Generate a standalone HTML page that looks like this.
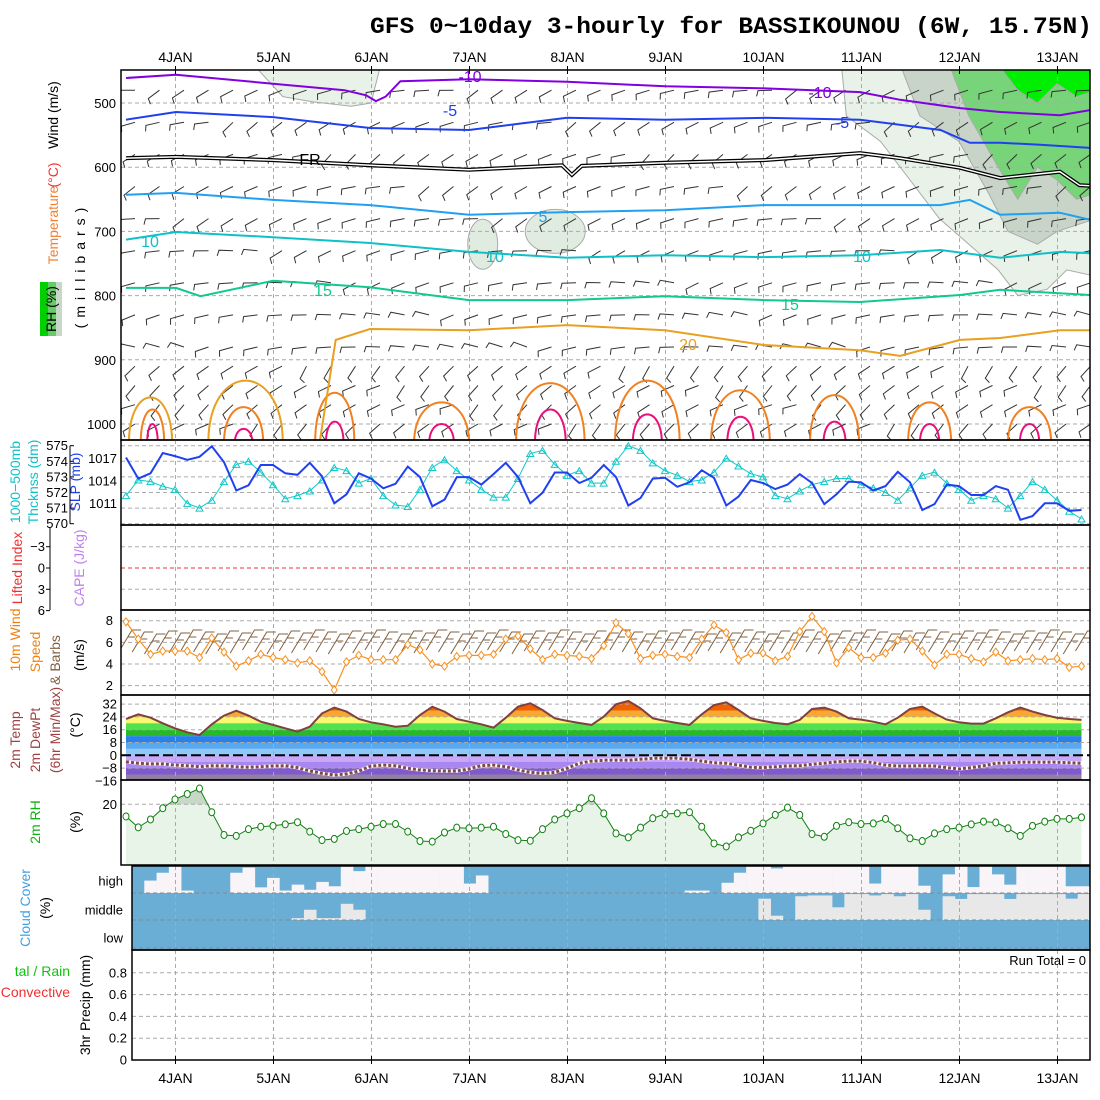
<!DOCTYPE html>
<html><head><meta charset="utf-8"><title>GFS meteogram</title>
<style>
html,body{margin:0;padding:0;background:#fff;}
svg{display:block;font-family:"Liberation Sans",sans-serif;}
</style></head>
<body>
<svg id="chart" xmlns="http://www.w3.org/2000/svg" width="1100" height="1100" viewBox="0 0 1100 1100">
<rect x="0" y="0" width="1100" height="1100" fill="#fff"/>
<text x="370" y="33" font-family="Liberation Mono,monospace" font-weight="bold" font-size="23" textLength="722" lengthAdjust="spacingAndGlyphs">GFS 0~10day 3-hourly for BASSIKOUNOU (6W, 15.75N)</text>
<g id="layers"></g>
<g font-size="14">
<text transform="translate(58,115) rotate(-90)" text-anchor="middle">Wind (m/s)</text>
<text transform="translate(58,175) rotate(-90)" text-anchor="middle" fill="#f03030">(°C)</text>
<text transform="translate(58,225) rotate(-90)" text-anchor="middle" fill="#f08030">Temperature</text>
<rect x="40" y="282" width="22" height="54" fill="#6c6"/>
<rect x="40" y="282" width="8" height="54" fill="#00d000"/>
<rect x="56" y="282" width="6" height="54" fill="#c8d8c8"/>
<text transform="translate(56,309) rotate(-90)" text-anchor="middle">RH (%)</text>
<text transform="translate(85,265) rotate(-90)" text-anchor="middle" letter-spacing="6">(millibars)</text>
<text transform="translate(20,482) rotate(-90)" text-anchor="middle" fill="#10c0c8">1000−500mb</text>
<text transform="translate(38,482) rotate(-90)" text-anchor="middle" fill="#10c0c8">Thcknss (dm)</text>
<text transform="translate(80,482) rotate(-90)" text-anchor="middle" fill="#2040f0">SLP (mb)</text>
<text transform="translate(22,568) rotate(-90)" text-anchor="middle" fill="#f03030">Lifted Index</text>
<text transform="translate(84,568) rotate(-90)" text-anchor="middle" fill="#c080f0">CAPE (J/kg)</text>
<text transform="translate(20,640) rotate(-90)" text-anchor="middle" fill="#f08010">10m Wind</text>
<text transform="translate(40,652) rotate(-90)" text-anchor="middle" fill="#f08010">Speed</text>
<text transform="translate(60,660) rotate(-90)" text-anchor="middle" fill="#806040">&amp; Barbs</text>
<text transform="translate(84,655) rotate(-90)" text-anchor="middle">(m/s)</text>
<text transform="translate(20,740) rotate(-90)" text-anchor="middle" fill="#a04040">2m Temp</text>
<text transform="translate(40,740) rotate(-90)" text-anchor="middle" fill="#a04040">2m DewPt</text>
<text transform="translate(60,730) rotate(-90)" text-anchor="middle" fill="#a04040">(6hr Min/Max)</text>
<text transform="translate(80,725) rotate(-90)" text-anchor="middle">(°C)</text>
<text transform="translate(40,822) rotate(-90)" text-anchor="middle" fill="#10b010">2m RH</text>
<text transform="translate(80,822) rotate(-90)" text-anchor="middle">(%)</text>
<text transform="translate(30,908) rotate(-90)" text-anchor="middle" fill="#40a0e0">Cloud Cover</text>
<text transform="translate(50,908) rotate(-90)" text-anchor="middle">(%)</text>
<text x="70" y="976" text-anchor="end" fill="#10c010">tal / Rain</text>
<text x="70" y="997" text-anchor="end" fill="#f03030">Convective</text>
<text transform="translate(90,1005) rotate(-90)" text-anchor="middle">3hr Precip (mm)</text>
<text x="1086" y="965" text-anchor="end" font-size="13">Run Total = 0</text>
</g>
</svg>
<script>
// ---------- data ----------
const days = ['4JAN','5JAN','6JAN','7JAN','8JAN','9JAN','10JAN','11JAN','12JAN','13JAN'];
const slp = [1017.1,1014.3,1015.0,1017.7,1017.3,1016.8,1017.2,1018.6,1016.5,1012.7,1013.4,1016.1,1016.1,1015.0,1014.8,1016.4,1014.6,1011.0,1012.2,1015.0,1014.3,1013.0,1013.6,1015.9,1014.5,1010.6,1011.5,1014.5,1014.5,1013.5,1014.9,1016.4,1014.5,1011.0,1012.4,1015.1,1015.1,1013.7,1014.4,1016.1,1014.5,1010.7,1011.7,1014.3,1014.4,1013.2,1013.8,1015.4,1014.4,1010.7,1011.9,1014.1,1013.7,1012.9,1013.5,1014.9,1013.7,1010.9,1012.2,1013.9,1013.8,1012.7,1013.3,1015.2,1013.8,1010.1,1010.9,1013.5,1013.3,1012.1,1012.1,1013.3,1012.8,1008.8,1009.3,1011.0,1011.0,1010.0,1010.1];
const thick = [571.8,572.8,572.7,572.4,572.2,571.3,571.0,571.5,572.7,573.8,574.0,573.3,572.5,571.6,571.8,572.1,572.8,573.6,573.4,572.6,572.9,571.8,571.2,571.1,572.2,573.6,574.1,573.4,572.8,572.2,571.7,571.7,572.9,574.5,574.7,573.8,573.1,573.4,572.6,572.6,574.0,575.0,574.7,573.9,573.4,573.1,572.7,572.8,573.3,574.2,573.7,573.2,573.0,571.8,571.6,572.1,572.5,572.7,572.9,572.9,572.5,572.3,572.0,571.5,572.3,573.1,573.3,572.6,572.2,571.5,571.8,571.6,571.0,571.8,572.7,572.2,571.5,570.8,570.3];
const wind10 = [7.9,6.3,4.9,5.2,5.2,5.2,4.6,6.4,5.1,3.8,4.3,4.9,4.6,4.4,4.1,4.3,3.3,1.6,4.2,4.8,4.4,4.4,4.4,5.8,5.3,4.0,3.8,4.7,4.8,4.8,4.9,6.3,6.6,5.4,4.4,4.9,4.8,4.7,4.5,5.7,7.8,6.8,4.5,4.8,4.9,4.7,4.6,6.3,7.6,6.9,4.4,5.0,5.0,4.3,4.7,7.0,8.4,7.0,4.1,5.5,4.6,4.6,5.0,6.2,6.3,5.2,3.9,4.9,4.9,4.5,4.2,5.1,4.3,4.4,4.5,4.4,4.5,3.7,3.8];
const temp2m = [22.7,25.6,23.5,20.0,16.9,14.4,12.7,19.4,24.8,27.9,24.8,21.0,19.0,16.9,14.8,17.9,26.2,29.8,27.3,22.7,20.6,19.4,17.9,18.5,25.2,30.4,27.3,22.7,21.0,19.4,17.3,23.5,30.4,32.5,28.3,23.1,21.5,20.2,19.0,24.2,31.9,34.0,29.4,23.1,21.5,20.2,19.0,25.6,31.4,33.1,28.3,23.1,21.5,20.2,19.4,22.1,29.0,29.8,27.3,23.1,22.3,21.0,19.4,23.5,29.0,30.4,26.2,22.3,20.6,19.8,19.8,23.1,26.9,29.8,27.3,25.2,23.5,22.7,22.1];
const dewpt = [-4.0,-5.0,-5.4,-5.4,-6.1,-6.5,-7.1,-6.5,-6.5,-7.1,-7.5,-7.1,-6.7,-6.5,-7.7,-9.8,-11.3,-12.3,-11.7,-9.8,-6.7,-6.1,-6.5,-8.1,-9.2,-9.6,-9.8,-9.8,-8.5,-6.5,-6.1,-7.1,-9.2,-10.6,-11.3,-10.6,-8.1,-5.0,-3.6,-3.1,-3.1,-3.1,-2.5,-1.9,-1.9,-1.9,-2.5,-3.6,-4.6,-5.0,-6.1,-7.5,-7.7,-7.1,-6.7,-6.5,-5.6,-5.0,-4.0,-3.6,-3.6,-4.6,-6.1,-6.7,-6.7,-6.5,-6.7,-7.7,-8.5,-7.7,-6.5,-5.0,-4.6,-4.4,-4.4,-4.4,-4.4,-4.6,-5.0];
const rh2m = [16.0,12.4,15.0,18.7,21.6,23.4,25.2,17.4,9.9,9.6,11.8,12.6,12.9,13.4,14.1,11.0,8.2,8.6,11.2,11.8,12.6,13.5,13.5,11.0,7.9,7.7,10.7,12.3,12.1,12.3,12.6,10.2,8.2,8.0,11.8,15.0,17.0,18.7,22.0,17.0,10.4,9.1,12.3,15.4,16.8,17.0,17.4,12.6,7.1,6.1,9.1,11.3,13.7,16.5,18.9,16.5,10.2,9.3,12.9,14.1,13.5,13.7,15.2,12.1,8.8,7.9,10.4,11.8,12.3,13.4,14.3,14.0,12.1,9.6,12.9,14.3,15.2,15.2,15.7];
const cloudHigh = [0,.46,.75,1,.09,0,0,0,.75,.94,.21,.56,.09,.31,.12,.41,.25,1,.81,1,1,1,1,1,1,1,1,.35,.65,0,0,0,0,0,0,0,0,0,0,0,0,0,0,0,0,.09,.09,0,.38,.75,.98,1,.91,1,1,1,1,1,1,1,.35,1,1,1,.27,0,.69,1,.22,1,.69,.31,1,1,1,1,.25,.25];
const cloudMid = [0,0,0,0,0,0,0,0,0,0,0,0,0,.07,.38,.07,.07,.6,.38,0,0,0,0,0,0,0,0,0,0,0,0,0,0,0,0,0,0,0,0,0,0,0,0,0,0,0,0,0,0,0,0,.79,.16,0,.88,.91,.91,.47,.96,.96,.91,.96,.88,.96,.38,0,.88,.78,.96,.96,.96,.78,.96,.96,.96,.96,.79,.96];
const precip = [];
// isotherms: time (days since first step) and pressure (mb)
const isoM10T = [0,.51,1.5,2.23,2.45,2.55,2.65,2.8,3.5,4.5,5.5,6.47,7.49,7.9,8.51,8.92,9.53,9.84];
const isoM10P = [461,456,470,480,488,497,490,466,463,467,474,477,483,495,508,514,519,511];
const isoM5T = [0,.51,1.5,2.49,3.5,4.5,5.5,6.51,7.49,8.31,8.61,8.92,9.33,9.84];
const isoM5P = [526,514,522,539,542,523,526,523,526,542,562,562,565,570];
const isoFRT = [0,.51,1.5,2.49,3.5,4.45,4.55,4.65,5.5,6.51,7.49,7.9,8.51,8.92,9.53,9.73,9.84];
const isoFRP = [586,584,589,597,604,597,612,598,593,589,578,586,601,617,607,628,629];
const iso5T = [0,.51,1.5,2.49,3.5,4.5,5.5,6.51,7.49,8.31,8.61,8.92,9.53,9.84];
const iso5P = [643,640,651,659,674,670,667,659,659,659,651,674,671,682];
const iso10T = [0,.51,1.5,2.49,3.5,4.5,5.5,6.51,7.49,8.31,8.92,9.53,9.84];
const iso10P = [713,701,709,718,732,741,737,740,737,729,741,732,734];
const iso15T = [0,.51,.76,1.5,2.49,3.5,4.5,5.5,6.51,7.49,8.51,8.92,9.84];
const iso15P = [788,788,801,777,787,807,807,801,807,810,799,791,799];
const iso20T = [1.98,2.14,2.49,3.5,4.5,5.5,6.51,7.49,7.9,8.51,8.92,9.53,9.84];
const iso20P = [1025,869,852,854,846,854,877,885,894,869,866,854,854];
const arcT = [0.27,1.2,2.13,3.22,4.33,5.32,6.27,7.23,8.2,9.22];
const arc25Top = [960,955,925,945,905,900,920,930,945,955];
const arcHalf = [0.12,0.2,0.2,0.28,0.35,0.33,0.3,0.25,0.22,0.22];
const arc30Top = [990,1000,985,990,960,970,975,985,990,990];
const arc20T = [0.25,1.22];
const arc20Top = [935,900];
const arc20Half = [0.22,0.38];
// ---------- scales ----------
const NS='http://www.w3.org/2000/svg';
const L=121, R=1090;
const layers=document.getElementById('layers');
function mk(tag,attrs,parent){const e=document.createElementNS(NS,tag);for(const k in attrs)e.setAttribute(k,attrs[k]);(parent||layers).appendChild(e);return e;}
function xi(i){return 126+12.25*i;}
function xt(t){return 126+98*t;}
function xDay(d){return 175.5+98*d;}
function yP(p){return 103+(p-500)*0.642;}
function yTh(v){return 445.7+(575-v)*15.6;}
function ySlp(v){return 458.3+(1017-v)*7.5;}
function yLI(v){return 568+v*7.1;}
function yW(v){return 620.7+(8-v)*10.83;}
function yT(v){return 755.3-v*1.6;}
function yRH(v){return 865-v*3.035;}
function yPr(v){return 1060-v*109;}
function pts(arr,yf){return arr.map((v,i)=>xi(i).toFixed(1)+','+yf(v).toFixed(1)).join(' ');}
function tp(T,P){return T.map((t,i)=>xt(t).toFixed(1)+','+yP(P[i]).toFixed(1)).join(' ');}

const defs=mk('defs',{});
const cp=mk('clipPath',{id:'c1'},defs); mk('rect',{x:L,y:70,width:R-L,height:370},cp);
const cp4=mk('clipPath',{id:'c4'},defs); mk('rect',{x:L,y:610,width:R-L,height:85},cp4);
const cp5=mk('clipPath',{id:'c5'},defs);
mk('polygon',{points:xi(0)+',780 '+pts(temp2m,yT)+' '+xi(temp2m.length-1)+',780'},cp5);

// ---------- panel 1: cross-section ----------
const g1=mk('g',{'clip-path':'url(#c1)'});


function poly(parent,T,P,fill){return mk('polygon',{points:tp(T,P),fill:fill,stroke:'#aaa','stroke-width':1},parent);}
let rh=poly(g1,[7.3,7.35,7.7,8.0,8.3,8.6,8.9,9.1,9.4,9.6,9.9,9.9],[440,520,560,620,680,720,760,800,790,760,770,440],'#e8f2e8');


poly(g1,[1.3,1.6,1.9,2.3,2.5,2.6],[440,490,498,505,500,440],'#e8f2e8');
mk('ellipse',{cx:xt(3.64),cy:yP(720),rx:15,ry:25,fill:'#e0ece0',stroke:'#aaa'},g1);
mk('ellipse',{cx:xt(4.38),cy:yP(700),rx:30,ry:22,fill:'#e0ece0',stroke:'#aaa'},g1);
poly(g1,[7.9,8.1,8.5,8.8,9.0,9.3,9.5,9.9,9.9],[440,520,560,640,700,720,700,680,440],'#c8d4c8');
poly(g1,[8.4,8.6,8.9,9.1,9.3,9.5,9.7,9.9,9.9],[440,520,600,650,600,620,650,640,440],'#78d478');
poly(g1,[8.9,9.1,9.3,9.5,9.7,9.9,9.9],[440,480,500,470,490,480,440],'#00ee00');
for(let p=500;p<=1000;p+=100){mk('line',{x1:L,x2:R,y1:yP(p),y2:yP(p),stroke:'#aaa','stroke-dasharray':'4,3'},g1);}
for(let d=0;d<days.length;d++){mk('line',{x1:xDay(d),x2:xDay(d),y1:70,y2:440,stroke:'#aaa','stroke-dasharray':'4,3'},g1);}
// barbs
const barbRowP=[480,530,580,630,680,730,780,830,880,910,940,970,1000];
const barbRowAng=[200,205,210,205,200,195,190,185,180,225,220,215,220];
for(let r=0;r<barbRowP.length;r++){
  for(let c=0;c<40;c++){
    const x=135+c*24.5, y=yP(barbRowP[r]);
    const a=(barbRowAng[r]+((c*37+r*11)%40)-20)*Math.PI/180;
    const len=14, x2=x+len*Math.cos(a), y2=y-len*Math.sin(a);
    const b=mk('path',{d:`M${x.toFixed(1)},${y.toFixed(1)}L${x2.toFixed(1)},${y2.toFixed(1)}l${(6*Math.cos(a+1.3)).toFixed(1)},${(-6*Math.sin(a+1.3)).toFixed(1)}`,stroke:'#333',fill:'none','stroke-width':1},g1);
    
    
  }
}
function arcPath(tc,half,top){const x1=xt(tc-half),x2=xt(tc+half),yb=yP(1030),yt=yP(top);return `M${x1},${yb}C${x1},${yt} ${x2},${yt} ${x2},${yb}`;}
for(let k=0;k<arc20T.length;k++){const a=mk('path',{d:arcPath(arc20T[k],arc20Half[k],arc20Top[k]),stroke:'#e8a020',fill:'none','stroke-width':2},g1);}
for(let k=0;k<arcT.length;k++){
  const a=mk('path',{d:arcPath(arcT[k],arcHalf[k],arc25Top[k]),stroke:'#f08020',fill:'none','stroke-width':2},g1);
  
  
  const m=mk('path',{d:arcPath(arcT[k],arcHalf[k]*0.45,arc30Top[k]),stroke:'#e8107a',fill:'none','stroke-width':2},g1);
  
  
}
function iso(T,P,color,name,w){const e=mk('polyline',{points:tp(T,P),stroke:color,fill:'none','stroke-width':w||2},g1);return e;}
iso(isoM10T,isoM10P,'#8000e0','isotherm-minus10');
iso(isoM5T,isoM5P,'#2040f0','isotherm-minus5');
iso(isoFRT,isoFRP,'#000','freezing-level',4);
iso(isoFRT,isoFRP,'#fff','freezing-level-inner',1.5);
iso(iso5T,iso5P,'#20a0f0','isotherm-5');
iso(iso10T,iso10P,'#10c0c8','isotherm-10');
iso(iso15T,iso15P,'#10c890','isotherm-15');
iso(iso20T,iso20P,'#e8a020','isotherm-20');
function lab(x,y,t,c,name){const e=mk('text',{x:x,y:y,fill:c,'font-size':16,'text-anchor':'middle'},g1);e.textContent=t;}
lab(470,82,'-10','#8000e0','label-minus10');lab(820,98,'-10','#8000e0','label-minus10b');
lab(450,116,'-5','#2040f0','label-minus5');lab(842,128,'-5','#2040f0','label-minus5b');
lab(310,165,'FR','#000','label-fr');
lab(543,222,'5','#20a0f0','label-5');
lab(150,247,'10','#10c0c8','label-10');lab(495,262,'10','#10c0c8','label-10b');lab(862,262,'10','#10c0c8','label-10c');
lab(323,296,'15','#10c890','label-15');lab(790,310,'15','#10c890','label-15b');
lab(688,350,'20','#e8a020','label-20');
mk('rect',{x:L,y:70,width:R-L,height:370,fill:'none',stroke:'#000','stroke-width':1.5});
for(let p=500;p<=1000;p+=100){const t=mk('text',{x:116,y:yP(p)+5,'font-size':13,'text-anchor':'end'});t.textContent=p;}

function frame(x1,y1,x2,y2,name){const e=mk('rect',{x:x1,y:y1,width:x2-x1,height:y2-y1,fill:'none',stroke:'#000','stroke-width':1.5});}
function hgrid(x1,y,x2,c){mk('line',{x1:x1,x2:x2,y1:y,y2:y,stroke:c||'#aaa','stroke-dasharray':'4,3'});}
function vgrid(y1,y2){for(let d=0;d<days.length;d++)mk('line',{x1:xDay(d),x2:xDay(d),y1:y1,y2:y2,stroke:'#aaa','stroke-dasharray':'4,3'});}
function tick(x,y,txt,anchor,color,name){const t=mk('text',{x:x,y:y+4.5,'font-size':13,'text-anchor':anchor||'end',fill:color||'#000'});t.textContent=txt;}

// ---------- panel 2 ----------
for(let v=570;v<=575;v++){hgrid(L,yTh(v),R);tick(68,yTh(v),v,'end','#000','thickness-tick');mk('line',{x1:70,x2:74,y1:yTh(v),y2:yTh(v),stroke:'#000'});}
vgrid(440,525);
mk('line',{x1:70,x2:70,y1:yTh(575),y2:yTh(570),stroke:'#000'});
[1017,1014,1011].forEach(v=>tick(117,ySlp(v),v,'end','#000','slp-tick'));
const th=mk('polyline',{points:pts(thick,yTh),stroke:'#10c8c8',fill:'none','stroke-width':1});


thick.forEach((v,i)=>{const m=mk('path',{d:`M${xi(i)-3.5},${yTh(v)+3}l3.5,-6l3.5,6z`,stroke:'#10c8c8',fill:'none'});});
const sl=mk('polyline',{points:pts(slp,ySlp),stroke:'#2040f0',fill:'none','stroke-width':2});


frame(L,440,R,525,'slp-panel');

// ---------- panel 3 ----------
[-3,3].forEach(v=>hgrid(L,yLI(v),R));
hgrid(L,yLI(0),R,'#f03030');
vgrid(525,610);
mk('line',{x1:50,x2:50,y1:527,y2:610,stroke:'#000'});
[-3,0,3,6].forEach(v=>{tick(45,yLI(v),v<0?'−'+(-v):v,'end','#000','li-tick');mk('line',{x1:46,x2:50,y1:yLI(v),y2:yLI(v),stroke:'#000'});});
frame(L,525,R,610,'cape-panel');

// ---------- panel 4 ----------
[8,6,4,2].forEach(v=>{hgrid(L,yW(v),R);tick(113,yW(v),v,'end','#000','wind-tick');});
vgrid(610,695);
const g4=mk('g',{'clip-path':'url(#c4)'});


for(let i=0;i<wind10.length;i+=1){
  const x=xi(i), y=642+((i*7)%5)-2;
  const b=mk('path',{d:`M${x-6},${y+10}L${x+6},${y-10}l9,0M${x+2},${y-3}l7,0`,stroke:'#806040',fill:'none','stroke-width':1},g4);
  
  
}
const wl=mk('polyline',{points:pts(wind10,yW),stroke:'#f89020',fill:'none','stroke-width':1.2});


wind10.forEach((v,i)=>{const m=mk('path',{d:`M${xi(i)},${yW(v)-4}l3,4l-3,4l-3,-4z`,stroke:'#f89020',fill:'#fff'});});
frame(L,610,R,695,'wind-panel');

// ---------- panel 5 ----------
const bandLo=[28,24,20,16,12,8,4,0,-4,-8,-12,-16];
const bandColor=['#f06000','#f8a830','#f8f870','#50e050','#28b828','#2880e8','#58a8f0','#90c8f8','#c8a8f8','#a888f0','#8058d0','#9080a0'];
const g5=mk('g',{'clip-path':'url(#c5)'});


for(let k=0;k<bandLo.length;k++){const top=k===0?40:bandLo[k]+4;mk('rect',{x:L,y:yT(top),width:R-L,height:yT(bandLo[k])-yT(top),fill:bandColor[k]},g5);}
[32,24,16,8,-8].forEach(v=>hgrid(L,yT(v),R));
mk('line',{x1:L,x2:R,y1:yT(0),y2:yT(0),stroke:'#000','stroke-width':2,'stroke-dasharray':'10,4'});
vgrid(695,780);
[[32,'32'],[24,'24'],[16,'16'],[8,'8'],[0,'0'],[-8,'−8'],[-16,'−16']].forEach(a=>tick(117,yT(a[0]),a[1],'end','#000','temp-tick'));
const tl=mk('polyline',{points:pts(temp2m,yT),stroke:'#804040',fill:'none','stroke-width':2});


mk('polyline',{points:pts(dewpt,yT),stroke:'#fff',fill:'none','stroke-width':3.5});
const dl=mk('polyline',{points:pts(dewpt,yT),stroke:'#804848',fill:'none','stroke-width':3,'stroke-dasharray':'3,2'});


frame(L,695,R,780,'temp-panel');

// ---------- panel 6 ----------
const rhPts=xi(0)+',865 '+pts(rh2m,yRH)+' '+xi(rh2m.length-1)+',865';
const cp6=mk('clipPath',{id:'c6'},defs);mk('polygon',{points:rhPts},cp6);
const rf=mk('polygon',{points:rhPts,fill:'#e8f4e8'});


mk('rect',{x:L,y:780,width:R-L,height:yRH(20)-780,fill:'#c8d8c8','clip-path':'url(#c6)'});
hgrid(L,yRH(20),R);vgrid(780,865);
tick(117,yRH(20),'20','end','#000','rh-tick');
const rl=mk('polyline',{points:pts(rh2m,yRH),stroke:'#108010',fill:'none','stroke-width':1});


rh2m.forEach((v,i)=>{const m=mk('ellipse',{cx:xi(i),cy:yRH(v),rx:3,ry:3.5,stroke:'#108010',fill:'#fff'});});
frame(L,780,R,865,'rh-panel');

// ---------- panel 7 ----------
const CL=132, segW=(R-CL)/cloudHigh.length;
mk('rect',{x:CL,y:866,width:R-CL,height:84,fill:'#6aaed6'});
cloudHigh.forEach((v,k)=>{if(v>0){const b=mk('rect',{x:CL+k*segW,y:893-v*27,width:segW+0.3,height:v*27,fill:'#f8f4f8'});}});
cloudMid.forEach((v,k)=>{if(v>0){const b=mk('rect',{x:CL+k*segW,y:920-v*27,width:segW+0.3,height:v*27,fill:'#e8e8e8'});}});
[893,920,948].forEach(y=>hgrid(CL,y,R,'#888'));
vgrid(866,950);
[['high',881],['middle',910],['low',938]].forEach(a=>tick(123,a[1],a[0],'end','#000','cloud-level-'+a[0]));
frame(CL,866,R,950,'cloud-panel');

// ---------- panel 8 ----------
[0.2,0.4,0.6,0.8].forEach(v=>hgrid(CL,yPr(v),R));
vgrid(950,1060);
[0,0.2,0.4,0.6,0.8].forEach(v=>tick(127,yPr(v),v,'end','#000','precip-tick'));
precip.forEach((v,i)=>{const b=mk('rect',{x:xi(i)-5,y:yPr(v),width:10,height:1060-yPr(v),fill:'#10c010'});});
frame(CL,950,R,1060,'precip-panel');

// ---------- time axes ----------
days.forEach((d,k)=>{
  const x=xDay(k);
  const t1=mk('text',{x:x,y:62,'font-size':14,'text-anchor':'middle'});t1.textContent=d;
  
  
  const t2=mk('text',{x:x,y:1083,'font-size':14,'text-anchor':'middle'});t2.textContent=d;
  
  
  mk('line',{x1:x,x2:x,y1:66,y2:74,stroke:'#000'});
  mk('line',{x1:x,x2:x,y1:1056,y2:1064,stroke:'#000'});
});
</script>
</body></html>
